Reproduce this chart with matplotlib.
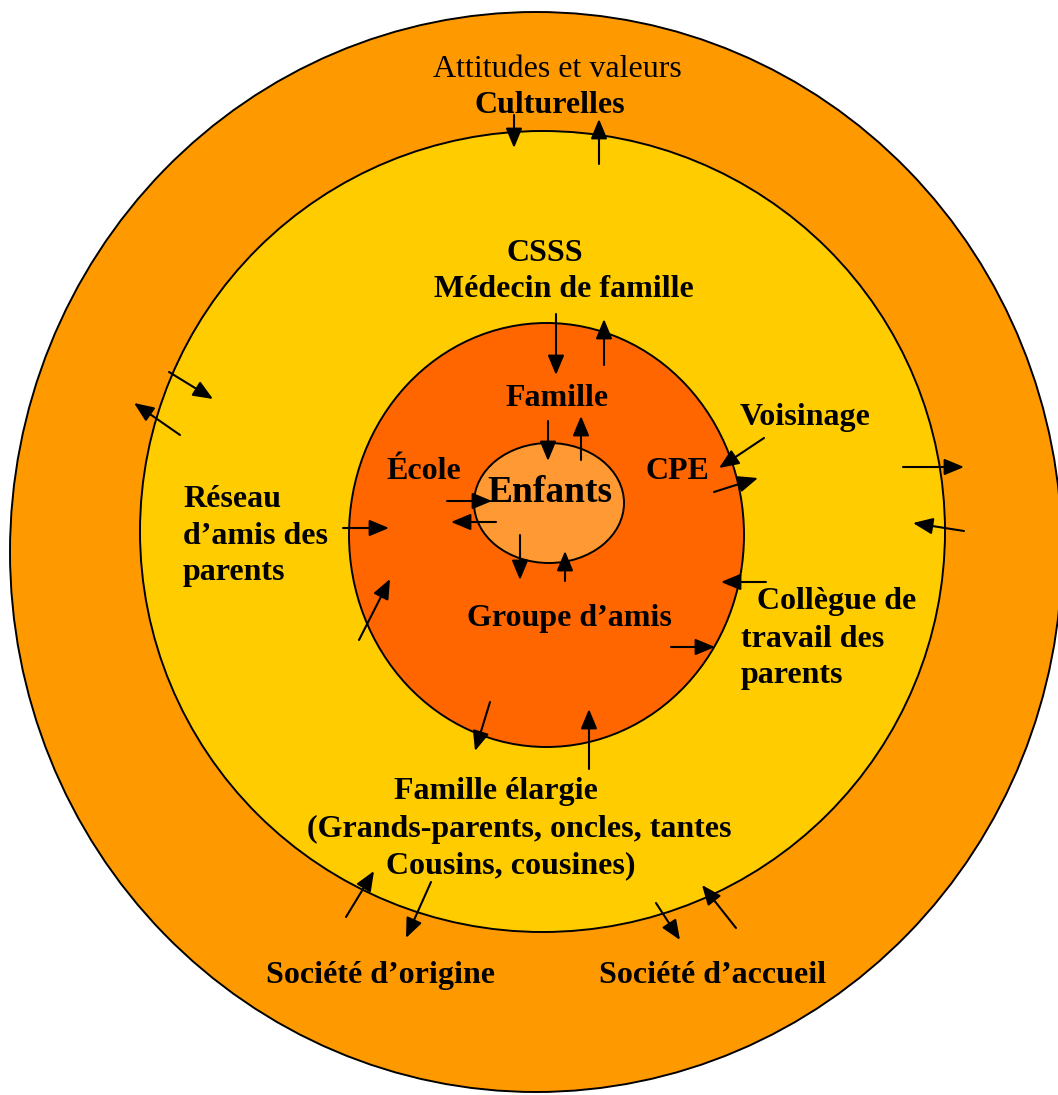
import matplotlib.pyplot as plt
from matplotlib.patches import Ellipse

# rings: (center x, center y, half width, half height, colour), outer to inner
ring_cx = [536, 542.5, 546.5, 549]
ring_cy = [552, 531.5, 535, 503]
ring_rx = [526, 402.5, 197.5, 75]
ring_ry = [540, 400.5, 212, 60]
ring_colors = ['#FF9900', '#FFCC00', '#FF6600', '#FF9933']

# arrows: (x0, y0) -> (x1, y1), head at the second point
arrow_start = [(514, 115), (599, 164), (556, 314), (604, 365), (548, 421), (581, 460),
               (447, 501), (496, 522), (520, 535), (565, 581), (343, 528), (359, 640),
               (169, 372), (180, 435), (764, 438), (714, 492), (903, 467), (964, 531),
               (766, 582), (671, 647), (490, 702), (589, 769), (346, 917), (431, 882),
               (656, 903), (736, 928)]
arrow_end = [(514, 148), (599, 119), (556, 375), (604, 319), (548, 461), (581, 416),
             (492, 501), (451, 522), (520, 580), (565, 551), (389, 528), (390, 579),
             (213, 399), (134, 403), (719, 468), (758, 478), (964, 467), (913, 523),
             (721, 582), (715, 647), (475, 751), (589, 709), (374, 871), (406, 938),
             (680, 940), (702, 885)]

# labels: text, x, baseline y, alignment, bold, size
labels = [
    ('Attitudes et valeurs', 557, 77, 'center', False, 23),
    ('Culturelles', 550, 113, 'center', True, 23),
    ('CSSS', 545, 261, 'center', True, 23),
    ('Médecin de famille', 564, 297, 'center', True, 23),
    ('Famille', 557, 406, 'center', True, 23),
    ('École', 424, 479, 'center', True, 23),
    ('Enfants', 550, 502, 'center', True, 27),
    ('CPE', 677, 479, 'center', True, 23),
    ('Voisinage', 805, 425, 'center', True, 23),
    ('Réseau', 183, 507, 'left', True, 23),
    ('d\u2019amis des', 183, 544, 'left', True, 23),
    ('parents', 183, 580, 'left', True, 23),
    ('Groupe d\u2019amis', 569, 626, 'center', True, 23),
    ('Collègue de', 757, 609, 'left', True, 23),
    ('travail des', 741, 647, 'left', True, 23),
    ('parents', 741, 683, 'left', True, 23),
    ('Famille élargie', 496, 799, 'center', True, 23),
    ('(Grands-parents, oncles, tantes', 519, 837, 'center', True, 23),
    ('Cousins, cousines)', 511, 873, 'center', True, 23),
    ('Société d\u2019origine', 380, 983, 'center', True, 23),
    ('Société d\u2019accueil', 713, 983, 'center', True, 23),
]

fig = plt.figure(figsize=(10.58, 10.95), dpi=100)
ax = fig.add_axes([0, 0, 1, 1])
ax.set_xlim(0, 1058)
ax.set_ylim(1095, 0)
ax.axis('off')

for cx, cy, rx, ry, col in zip(ring_cx, ring_cy, ring_rx, ring_ry, ring_colors):
    ax.add_patch(Ellipse((cx, cy), 2 * rx, 2 * ry, facecolor=col,
                         edgecolor='black', linewidth=1.4))

for (x0, y0), (x1, y1) in zip(arrow_start, arrow_end):
    ax.annotate('', xy=(x1, y1), xytext=(x0, y0),
                arrowprops=dict(arrowstyle='-|>,head_length=0.6,head_width=0.25',
                                mutation_scale=20, lw=1.5, color='black',
                                shrinkA=0, shrinkB=0))

for txt, x, y, ha, bold, size in labels:
    ax.text(x, y, txt, ha=ha, va='baseline', fontsize=size,
            fontfamily='Liberation Serif',
            fontweight='bold' if bold else 'normal')

plt.savefig('out.png', dpi=100)
